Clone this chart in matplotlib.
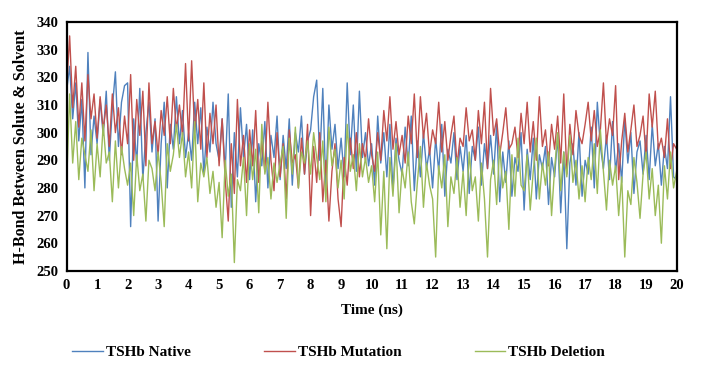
import numpy as np
import matplotlib
matplotlib.use('Agg')
import matplotlib.pyplot as plt

plt.rcParams['font.family'] = ['Liberation Serif', 'DejaVu Serif']
plt.rcParams['font.weight'] = 'bold'

# time axis, 0.1 ns steps
time_ns = [i / 10 for i in range(201)]

# H-bonds, TSHb Native
native = [
    315, 324, 305, 318, 297, 312, 280, 329, 292, 306,
    296, 312, 299, 315, 290, 309, 322, 295, 311, 317,
    318, 266, 305, 288, 316, 283, 300, 311, 293, 305,
    268, 296, 311, 280, 303, 294, 313, 296, 308, 291,
    300, 290, 311, 296, 309, 285, 302, 293, 311, 296,
    290, 305, 286, 314, 273, 300, 284, 309, 291, 303,
    283, 301, 275, 296, 288, 304, 280, 299, 291, 306,
    283, 299, 287, 305, 281, 300, 293, 306, 285, 297,
    301, 313, 319, 290, 316, 280, 310, 294, 303, 287,
    298, 284, 318, 292, 310, 286, 315, 291, 300, 288,
    296, 281, 306, 289, 300, 284, 303, 279, 298, 290,
    285, 302, 288, 306, 279, 297, 284, 300, 287, 294,
    280, 298, 286, 303, 277, 294, 289, 300, 283, 295,
    286, 299, 278, 295, 290, 302, 281, 296, 287, 299,
    285, 303, 275, 293, 282, 297, 277, 291, 286, 300,
    272, 294, 283, 298, 276, 292, 287, 295, 274, 291,
    284, 299, 271, 293, 258, 289, 296, 281, 300, 277,
    290, 285, 302, 280, 311, 295, 287, 299, 283, 304,
    286, 296, 282, 305, 289, 300, 278, 293, 297, 285,
    299, 283, 303, 288, 296, 281, 295, 287, 313, 284,
    283,
]

# H-bonds, TSHb Mutation
mutation = [
    316, 335, 309, 324, 302, 318, 297, 321, 305, 314,
    298, 313, 301, 310, 295, 314, 300, 309, 292, 306,
    296, 321, 290, 312, 299, 315, 288, 318, 296, 304,
    292, 308, 299, 313, 296, 316, 301, 310, 299, 325,
    297, 326, 300, 312, 294, 318, 291, 307, 296, 310,
    288, 305, 283, 268, 296, 278, 312, 288, 299, 282,
    301, 288, 308, 282, 297, 286, 311, 290, 279, 300,
    284, 296, 276, 301, 289, 292, 280, 298, 285, 303,
    270, 295, 282, 300, 275, 290, 268, 286, 296, 276,
    266, 291, 281, 298, 287, 300, 284, 296, 290, 305,
    292, 286, 300, 290, 308, 297, 313, 294, 304, 292,
    299, 289, 306, 296, 314, 291, 313, 298, 307, 292,
    301, 296, 311, 293, 304, 290, 299, 306, 288, 298,
    295, 309, 297, 301, 290, 308, 296, 311, 287, 316,
    299, 305, 292, 300, 309, 294, 296, 302, 291, 307,
    296, 311, 293, 304, 290, 313, 295, 301, 288, 303,
    294, 306, 289, 314, 285, 303, 292, 308, 299, 296,
    303, 311, 297, 308, 295, 301, 318, 296, 305, 299,
    317, 283, 297, 307, 293, 301, 310, 295, 299, 306,
    291, 314, 302, 315, 294, 298, 291, 305, 287, 296,
    294,
]

# H-bonds, TSHb Deletion
deletion = [
    281, 314, 289, 304, 283, 298, 292, 286, 301, 279,
    296, 284, 303, 289, 293, 275, 297, 280, 295, 287,
    281, 289, 270, 292, 279, 285, 268, 290, 287, 279,
    293, 282, 266, 296, 286, 292, 303, 291, 300, 284,
    293, 280, 304, 275, 289, 284, 291, 278, 286, 273,
    282, 262, 290, 277, 285, 253, 283, 279, 291, 270,
    296, 283, 294, 271, 303, 285, 291, 276, 289, 282,
    289, 295, 269, 298, 285, 302, 280, 293, 289, 297,
    285, 300, 291, 283, 297, 275, 302, 288, 294, 280,
    290, 276, 303, 286, 292, 279, 296, 284, 291, 282,
    288, 275, 293, 263, 286, 258, 291, 277, 296, 271,
    287, 280, 293, 275, 267, 282, 295, 273, 289, 281,
    276, 255, 288, 280, 292, 266, 284, 278, 291, 273,
    286, 270, 293, 279, 284, 268, 289, 276, 255, 283,
    290, 274, 295, 280, 286, 265, 292, 277, 298, 281,
    279, 292, 272, 286, 298, 276, 289, 281, 293, 270,
    287, 300, 279, 293, 284, 299, 282, 290, 276, 288,
    275, 291, 283, 296, 278, 301, 286, 272, 290, 281,
    288, 270, 284, 255, 279, 274, 291, 282, 269, 285,
    293, 276, 287, 270, 281, 260, 288, 276, 293, 280,
    286,
]

fig = plt.figure(figsize=(7.16, 3.68), dpi=100)
ax = fig.add_axes([0.093, 0.264, 0.852, 0.676])

ax.plot(time_ns, native, color='#4F81BD', lw=1.0, label='TSHb Native')
ax.plot(time_ns, mutation, color='#C0504D', lw=1.0, label='TSHb Mutation')
ax.plot(time_ns, deletion, color='#9BBB59', lw=1.0, label='TSHb Deletion')

ax.set_xlim(0, 20)
ax.set_ylim(250, 340)
ax.set_xticks(range(0, 21))
ax.set_yticks(range(250, 341, 10))
ax.tick_params(length=0, labelsize=10.5, pad=6)
for s in ax.spines.values():
    s.set_linewidth(1.6)

ax.set_xlabel('Time (ns)', fontsize=11, fontweight='bold', labelpad=8)
ax.set_ylabel('H-Bond Between Solute & Solvent', fontsize=11.5, fontweight='bold', labelpad=5)

fig.legend(loc='center', bbox_to_anchor=(0.473, 0.043), ncol=3, frameon=False,
           fontsize=11, handlelength=2.0, handletextpad=0.2, columnspacing=4.8)

fig.savefig('out.png', dpi=100)
